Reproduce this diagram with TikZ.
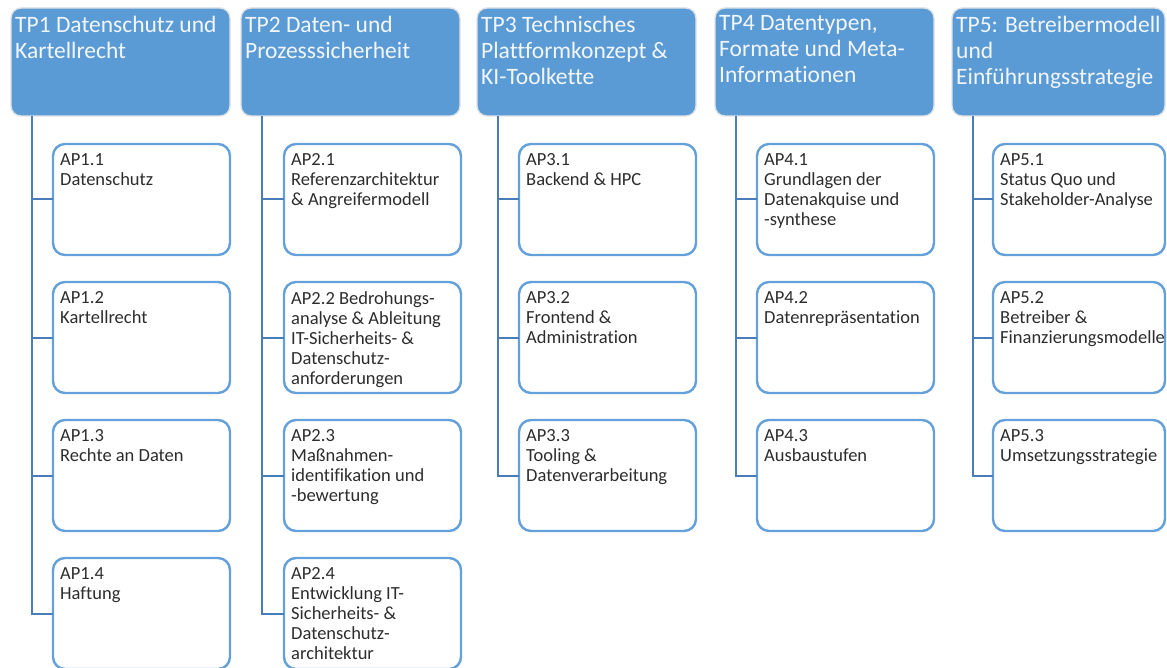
\documentclass[tikz,border=0pt]{standalone}
\usepackage{fontspec}
\setmainfont{Carlito}[Ligatures=NoCommon]
\usetikzlibrary{calc}
\definecolor{tpblue}{RGB}{91,155,213}
\definecolor{apline}{RGB}{100,160,218}
\definecolor{spine}{RGB}{72,125,185}
\definecolor{tptext}{RGB}{242,246,251}
\definecolor{aptext}{RGB}{45,45,45}
\definecolor{haze}{RGB}{222,226,231}
\begin{document}
\begin{tikzpicture}[x=1pt,y=-1pt,
  tpbox/.style={rectangle, rounded corners=10pt, fill=tpblue, draw=haze, line width=1.4pt,
    minimum width=219pt, minimum height=108pt, anchor=north west, inner sep=0pt, outer sep=0pt},
  apbox/.style={rectangle, rounded corners=12pt, fill=white, draw=apline, line width=2.4pt,
    minimum width=177pt, minimum height=111pt, anchor=north west, inner sep=0pt, outer sep=0pt},
  tplabel/.style={anchor=north west, inner sep=0pt, align=left, text=tptext,
    font=\fontsize{23.5}{26}\selectfont, execute at begin node=\rule{0pt}{17pt}},
  aplabel/.style={anchor=north west, inner sep=0pt, align=left, text=aptext,
    font=\fontsize{18.5}{20}\selectfont, execute at begin node=\rule{0pt}{13pt}},
  conn/.style={draw=spine, line width=2pt}
]
\useasboundingbox (0,0) rectangle (1167,668);

% ---- work package headers ----
\node[tpbox] (tp1) at (11,8) {};
\node[tpbox] (tp2) at (241,8) {};
\node[tpbox] (tp3) at (477,8) {};
\node[tpbox] (tp4) at (715,8) {};
\node[tpbox, minimum width=213pt] (tp5) at (952,8) {};

\node[tplabel] (tp1t) at ($(tp1.north west)+(4,7.5)$) {TP1 Datenschutz und\\Kartellrecht};
\node[tplabel] (tp2t) at ($(tp2.north west)+(4,7.5)$) {TP2 Daten- und\\Prozesssicherheit};
\node[tplabel] (tp3t) at ($(tp3.north west)+(4,7.5)$) {TP3 Technisches\\Plattformkonzept \&\\KI-Toolkette};
\node[tplabel] (tp4t) at ($(tp4.north west)+(4,7.5)$) {TP4 Datentypen,\\Formate und Meta-\\Informationen};
\node[tplabel] (tp5t) at ($(tp5.north west)+(4,7.5)$) {TP5: Betreibermodell\\und\\Einführungsstrategie};

% ---- spines below the headers ----
\coordinate (s1) at ($(tp1.south west)+(21,0)$);
\coordinate (s2) at ($(tp2.south west)+(21,0)$);
\coordinate (s3) at ($(tp3.south west)+(21,0)$);
\coordinate (s4) at ($(tp4.south west)+(21,0)$);
\coordinate (s5) at ($(tp5.south west)+(21,0)$);

% ---- work package boxes ----
\node[apbox] (ap11) at (53,144) {};
\node[apbox] (ap12) at (53,282) {};
\node[apbox] (ap13) at (53,420) {};
\node[apbox] (ap14) at (53,558) {};

\node[apbox] (ap21) at (284,144) {};
\node[apbox] (ap22) at (284,282) {};
\node[apbox] (ap23) at (284,420) {};
\node[apbox] (ap24) at (284,558) {};

\node[apbox] (ap31) at (519,144) {};
\node[apbox] (ap32) at (519,282) {};
\node[apbox] (ap33) at (519,420) {};

\node[apbox] (ap41) at (757,144) {};
\node[apbox] (ap42) at (757,282) {};
\node[apbox] (ap43) at (757,420) {};

\node[apbox, minimum width=172pt] (ap51) at (993,144) {};
\node[apbox, minimum width=172pt] (ap52) at (993,282) {};
\node[apbox, minimum width=172pt] (ap53) at (993,420) {};

% ---- connectors ----
\draw[conn] (s1) |- (ap14.west);
\draw[conn] (s1 |- ap11.west) -- (ap11.west);
\draw[conn] (s1 |- ap12.west) -- (ap12.west);
\draw[conn] (s1 |- ap13.west) -- (ap13.west);

\draw[conn] (s2) |- (ap24.west);
\draw[conn] (s2 |- ap21.west) -- (ap21.west);
\draw[conn] (s2 |- ap22.west) -- (ap22.west);
\draw[conn] (s2 |- ap23.west) -- (ap23.west);

\draw[conn] (s3) |- (ap33.west);
\draw[conn] (s3 |- ap31.west) -- (ap31.west);
\draw[conn] (s3 |- ap32.west) -- (ap32.west);

\draw[conn] (s4) |- (ap43.west);
\draw[conn] (s4 |- ap41.west) -- (ap41.west);
\draw[conn] (s4 |- ap42.west) -- (ap42.west);

\draw[conn] (s5) |- (ap53.west);
\draw[conn] (s5 |- ap51.west) -- (ap51.west);
\draw[conn] (s5 |- ap52.west) -- (ap52.west);

% ---- box texts ----
\node[aplabel] (ap11t) at ($(ap11.north west)+(7,9)$) {AP1.1\\Datenschutz};
\node[aplabel] (ap12t) at ($(ap12.north west)+(7,9)$) {AP1.2\\Kartellrecht};
\node[aplabel] (ap13t) at ($(ap13.north west)+(7,9)$) {AP1.3\\Rechte an Daten};
\node[aplabel] (ap14t) at ($(ap14.north west)+(7,9)$) {AP1.4\\Haftung};

\node[aplabel] (ap21t) at ($(ap21.north west)+(7,9)$) {AP2.1\\Referenzarchitektur\\\& Angreifermodell};
\node[aplabel] (ap22t) at ($(ap22.north west)+(7,9)$) {AP2.2 Bedrohungs-\\analyse \& Ableitung\\IT-Sicherheits- \&\\Datenschutz-\\anforderungen};
\node[aplabel] (ap23t) at ($(ap23.north west)+(7,9)$) {AP2.3\\Maßnahmen-\\identifikation und\\-bewertung};
\node[aplabel] (ap24t) at ($(ap24.north west)+(7,9)$) {AP2.4\\Entwicklung IT-\\Sicherheits- \&\\Datenschutz-\\architektur};

\node[aplabel] (ap31t) at ($(ap31.north west)+(7,9)$) {AP3.1\\Backend \& HPC};
\node[aplabel] (ap32t) at ($(ap32.north west)+(7,9)$) {AP3.2\\Frontend \&\\Administration};
\node[aplabel] (ap33t) at ($(ap33.north west)+(7,9)$) {AP3.3\\Tooling \&\\Datenverarbeitung};

\node[aplabel] (ap41t) at ($(ap41.north west)+(7,9)$) {AP4.1\\Grundlagen der\\Datenakquise und\\-synthese};
\node[aplabel] (ap42t) at ($(ap42.north west)+(7,9)$) {AP4.2\\Datenrepräsentation};
\node[aplabel] (ap43t) at ($(ap43.north west)+(7,9)$) {AP4.3\\Ausbaustufen};

\node[aplabel] (ap51t) at ($(ap51.north west)+(7,9)$) {AP5.1\\Status Quo und\\Stakeholder-Analyse};
\node[aplabel] (ap52t) at ($(ap52.north west)+(7,9)$) {AP5.2\\Betreiber \&\\Finanzierungsmodelle};
\node[aplabel] (ap53t) at ($(ap53.north west)+(7,9)$) {AP5.3\\Umsetzungsstrategie};
\end{tikzpicture}
\end{document}
